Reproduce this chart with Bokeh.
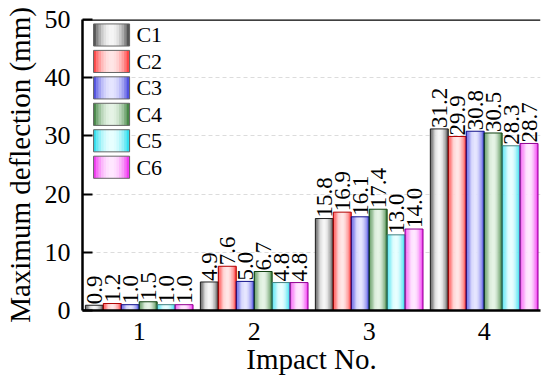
import numpy as np
from bokeh.plotting import figure
from bokeh.models import FixedTicker, Range1d, Span
from bokeh.core.properties import value
from bokeh.embed import file_html
from bokeh.resources import INLINE

# ---- data ----
impacts = [1, 2, 3, 4]
impact_labels = ["1", "2", "3", "4"]
series = ["C1", "C2", "C3", "C4", "C5", "C6"]
C1 = [0.9, 4.9, 15.8, 31.2]
C2 = [1.2, 7.6, 16.9, 29.9]
C3 = [1.0, 5.0, 16.1, 30.8]
C4 = [1.5, 6.7, 17.4, 30.5]
C5 = [1.0, 4.8, 13.0, 28.3]
C6 = [1.0, 4.8, 14.0, 28.7]
values = [C1, C2, C3, C4, C5, C6]
y_ticks = [0, 10, 20, 30, 40, 50]

# ---- styles ----
edge_colors = ["#2a2a2a", "#ff1a1a", "#2828d8", "#1c6a1c", "#00d6ea", "#ee0aee"]
light_colors = ["#f6f6f6", "#ffe6e6", "#e6e6ff", "#e6f4e6", "#e8ffff", "#ffe8ff"]
outline_colors = ["#222222", "#b00000", "#10108a", "#104010", "#408080", "#900090"]
FONT = "Liberation Serif"
BAR_W = 0.156
NSTRIP = 14


def hex2rgb(h):
    h = h.lstrip("#")
    return np.array([int(h[i:i + 2], 16) for i in (0, 2, 4)], dtype=float)


def rgb2hex(c):
    c = np.clip(np.round(c), 0, 255).astype(int)
    return "#%02x%02x%02x" % tuple(c)


def grad_colors(edge, light, n):
    e, l = hex2rgb(edge), hex2rgb(light)
    out = []
    for k in range(n):
        t = (k + 0.5) / n
        f = np.sin(np.pi * t) ** 0.7
        out.append(rgb2hex(e + (l - e) * f))
    return out


p = figure(width=541, height=384,
           x_range=Range1d(0.507, 4.49), y_range=Range1d(0, 50),
           output_backend="svg", toolbar_location=None,
           min_border_left=82, min_border_top=19, min_border_bottom=74,
           min_border_right=1)
p.outline_line_color = None
p.background_fill_color = "white"
p.border_fill_color = "white"

# bars as gradient strips
strip_x, strip_top, strip_col = [], [], []
ox, ot, oc = [], [], []
lx, ly, lt = [], [], []
for si, vals in enumerate(values):
    cols = grad_colors(edge_colors[si], light_colors[si], NSTRIP)
    for ci, v in enumerate(vals):
        xc = impacts[ci] + (si - 2.5) * BAR_W
        for k in range(NSTRIP):
            strip_x.append(xc - BAR_W / 2 + (k + 0.5) * BAR_W / NSTRIP)
            strip_top.append(v)
            strip_col.append(cols[k])
        ox.append(xc)
        ot.append(v)
        oc.append(outline_colors[si])
        lx.append(xc)
        ly.append(v)
        lt.append("%.1f" % v)

p.vbar(x=strip_x, top=strip_top, bottom=0, width=BAR_W / NSTRIP * 1.25,
       fill_color=strip_col, line_color=None)
p.vbar(x=ox, top=ot, bottom=0, width=BAR_W, fill_color=None,
       line_color=oc, line_width=1)
p.text(x=lx, y=ly, text=lt, angle=np.pi / 2, text_align="left",
       text_baseline="middle", text_font=value(FONT), text_font_size="23px",
       text_color="black", y_offset=-1)

# legend (manual, gradient swatches)
LEG_X, LEG_W, LEG_Y0, LEG_DY, LEG_H = 0.76, 0.313, 47.34, 4.545, 3.8
for si, name in enumerate(series):
    cols = grad_colors(edge_colors[si], light_colors[si], NSTRIP)
    yc = LEG_Y0 - si * LEG_DY
    xs = [LEG_X - LEG_W / 2 + (k + 0.5) * LEG_W / NSTRIP for k in range(NSTRIP)]
    p.vbar(x=xs, top=yc + LEG_H / 2, bottom=yc - LEG_H / 2,
           width=LEG_W / NSTRIP * 1.25, fill_color=cols, line_color=None)
    p.rect(x=[LEG_X], y=[yc], width=LEG_W, height=LEG_H, fill_color=None,
           line_color="#666666", line_width=1)
    p.text(x=[LEG_X + 0.216], y=[yc], text=[name], text_align="left",
           text_baseline="middle", text_font=value(FONT),
           text_font_size="22px", text_color="black")

# grid
p.xgrid.visible = False
p.ygrid.grid_line_color = "#dcdcdc"
p.ygrid.grid_line_dash = "4 3"
p.ygrid.grid_line_width = 1

# top border line
p.add_layout(Span(location=50, dimension="width", line_color="black",
                  line_width=2.5))

# axes
p.yaxis.ticker = FixedTicker(ticks=y_ticks)
p.xaxis.ticker = FixedTicker(ticks=impacts)
p.xaxis.major_label_overrides = {i: l for i, l in zip(impacts, impact_labels)}

for ax in (p.xaxis[0], p.yaxis[0]):
    ax.axis_line_width = 2.5
    ax.axis_line_color = "black"
    ax.minor_tick_line_color = None
    ax.major_label_text_font = FONT
    ax.major_label_text_font_size = "26px"
    ax.major_label_text_color = "black"
    ax.axis_label_text_font = FONT
    ax.axis_label_text_font_size = "29px"
    ax.axis_label_text_font_style = "normal"
    ax.axis_label_text_color = "black"

p.yaxis.major_tick_in = 10
p.yaxis.major_tick_out = 0
p.yaxis.major_tick_line_width = 2
p.yaxis.major_label_standoff = 12
p.yaxis.axis_label = "Maximum deflection (mm)"
p.yaxis.axis_label_standoff = 6

p.xaxis.major_tick_in = 0
p.xaxis.major_tick_out = 0
p.xaxis.major_tick_line_color = None
p.xaxis.major_label_standoff = 12
p.xaxis.axis_label = "Impact No."
p.xaxis.axis_label_standoff = 0

open("out.html", "w").write(file_html(p, INLINE))
